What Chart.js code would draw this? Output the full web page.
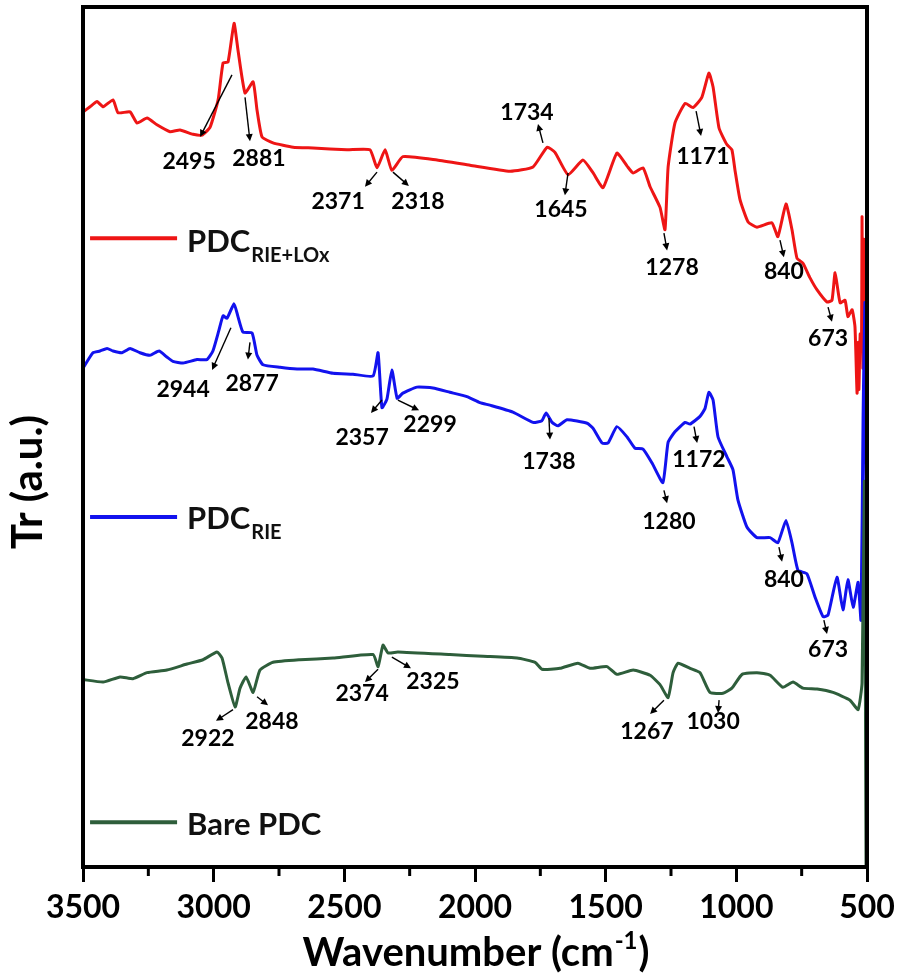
<!DOCTYPE html>
<html><head><meta charset="utf-8">
<script src="https://cdn.jsdelivr.net/npm/chart.js@4.4.1/dist/chart.umd.min.js"></script>
<style>html,body{margin:0;padding:0;background:#fff;}canvas{display:block;}</style>
</head><body>
<canvas id="c" width="901" height="978"></canvas>
<script>
// ---- axis ticks ----
const majorTicks = [3500, 3000, 2500, 2000, 1500, 1000, 500];
const minorTicks = [3250, 2750, 2250, 1750, 1250, 750];

// ---- series names ----
const seriesMain = ['PDC', 'PDC', 'Bare PDC'];
const seriesSub = ['RIE+LOx', 'RIE', ''];
const seriesColors = ['#ee1515', '#1212ee', '#2e5e3b'];

// ---- PDC RIE+LOx ----
const redWn = [3500,3473,3446,3423,3385,3366,3320,3293,3255,3217,
3167,3129,3079,3045,3014,2983,2964,2945,2922,2907,
2880,2849,2834,2815,2773,2696,2620,2490,2402,2375,
2344,2318,2276,2145,2019,1866,1778,1724,1694,1644,
1587,1548,1510,1457,1418,1395,1357,1330,1292,1273,
1261,1235,1196,1166,1132,1105,1089,1066,1036,1017,
1005,986,955,921,864,841,810,787,768,745,
718,691,653,634,622,603,584,573,557,546,
538,534,531,526,521,519,516,512,507,503,
501];
const redTr = [87.8,88.4,89.0,88.4,89.2,87.7,87.8,86.5,87.1,86.3,
85.5,85.7,85.2,85.1,86.0,89.2,93.5,93.6,98.1,95.0,
90.0,91.3,88.0,84.9,84.2,83.7,83.6,83.4,83.4,81.3,
83.4,81.0,82.6,82.2,81.6,80.9,81.4,83.7,83.1,80.5,
82.2,80.7,79.0,83.0,81.5,80.7,81.3,79.1,76.7,74.1,
81.4,86.5,88.8,88.3,89.5,92.3,90.7,85.9,84.0,83.4,
81.0,77.6,75.0,74.4,74.9,73.3,77.1,74.1,70.8,70.2,
68.5,67.1,65.7,65.9,69.1,65.6,65.9,64.0,64.8,62.8,
55.1,61.0,55.5,62.0,60.0,75.6,58.0,73.0,58.0,68.0,
56.0];

// ---- PDC RIE ----
const blueWn = [3500,3462,3435,3408,3385,3351,3320,3282,3244,3209,
3179,3156,3117,3064,3026,3003,2980,2964,2949,2922,
2907,2888,2853,2834,2811,2746,2681,2620,2543,2467,
2390,2371,2356,2337,2318,2298,2276,2222,2161,2096,
2031,1981,1943,1855,1778,1744,1728,1705,1682,1648,
1571,1548,1514,1491,1457,1418,1388,1357,1323,1281,
1261,1235,1196,1177,1139,1120,1105,1089,1070,1036,
1013,994,959,921,871,841,810,787,764,730,
699,668,649,615,592,573,553,534,523,515,
508,503];
const blueTr = [58.0,59.8,60.0,60.3,60.0,59.8,60.3,59.8,59.5,60.0,
59.3,58.8,58.6,59.0,59.0,60.0,62.4,64.1,63.8,65.5,
64.0,62.2,62.1,59.5,58.4,58.1,57.9,57.9,57.4,57.3,
57.1,59.8,53.4,54.4,57.8,54.5,55.1,55.8,55.7,55.2,
54.7,54.0,53.7,52.9,51.7,51.9,52.8,51.7,51.3,52.0,
51.6,51.0,49.3,49.3,51.2,50.0,48.7,48.6,47.0,44.7,
49.4,50.6,51.7,51.5,52.4,53.3,55.2,54.3,50.0,47.7,
46.2,42.7,39.5,38.3,38.3,37.7,40.3,37.7,34.5,34.1,
31.4,29.1,29.3,33.7,29.9,33.4,30.2,33.1,28.7,52.3,
65.6,30.0];

// ---- Bare PDC ----
const greenWn = [3500,3423,3358,3309,3255,3179,3102,3041,2987,2968,
2945,2918,2899,2876,2849,2823,2773,2670,2543,2390,
2371,2352,2333,2295,2096,1969,1839,1770,1744,1675,
1606,1560,1495,1457,1395,1330,1292,1261,1242,1223,
1177,1139,1101,1051,1017,978,921,871,822,783,
745,691,630,565,534,519,510,503];
const greenTr = [21.8,21.5,22.1,21.9,22.6,22.9,23.6,24.1,25.0,24.3,
21.4,18.6,20.8,22.1,20.3,22.9,23.8,24.1,24.3,24.7,
23.3,25.8,24.9,25.0,24.7,24.5,24.3,23.8,23.0,23.1,
23.7,23.1,23.3,22.4,22.9,22.3,21.2,19.7,22.6,23.7,
23.1,22.6,20.3,20.2,20.8,22.4,22.6,22.3,20.9,21.5,
20.8,20.7,20.3,19.4,18.3,21.4,44.8,-5];

// ---- peak labels: [text, textWn, textTr, arrowFromWn, arrowFromTr, arrowToWn, arrowToTr] ----
const peakLabels = [
 ['2495',3094,82.0,2930,92.1,3052,84.9],
 ['2881',2827,82.4,2880,89.5,2861,84.4],
 ['2371',2524,77.4,2375,80.8,2421,79.1],
 ['2318',2218,77.4,2314,80.8,2253,79.2],
 ['1734',1801,87.7,1740,84.2,1759,86.4],
 ['1645',1671,76.4,1644,80.7,1656,78.1],
 ['1278',1246,69.7,1277,73.7,1265,71.7],
 ['1171',1128,82.6,1154,87.9,1135,85.0],
 ['840',818,69.2,833,72.9,818,70.9],
 ['673',649,61.5,649,65.1,634,63.4],
 ['2944',3117,55.5,2934,62.7,3006,57.8],
 ['2877',2853,56.2,2861,61.0,2869,59.0],
 ['2357',2432,49.9,2356,54.3,2398,52.8],
 ['2299',2172,51.4,2295,54.3,2214,53.1],
 ['1738',1717,47.1,1717,52.2,1713,49.7],
 ['1280',1258,40.2,1277,43.8,1265,42.3],
 ['1172',1143,47.4,1162,51.2,1150,49.3],
 ['840',818,33.4,837,37.2,825,35.5],
 ['673',649,25.3,665,28.7,653,27.1],
 ['2922',3022,14.9,2926,18.3,2991,17.0],
 ['2848',2777,16.9,2834,19.8,2792,18.8],
 ['2374',2432,20.2,2371,23.0,2421,21.5],
 ['2325',2161,21.6,2318,24.4,2245,23.1],
 ['1267',1342,15.8,1277,19.4,1330,17.8],
 ['1030',1089,16.9,1066,19.4,1070,17.9]
];

// ---- in-plot legend anchors (data units): line y, text baseline y ----
const legendLineWn = [3473, 3140];
const legendTextWn = 3102;
const legendLineTr = [73.1, 40.7, 5.2];
const legendTextTr = [71.5, 39.3, 3.7];

const FONT = 'Lato, "Open Sans", sans-serif';
const pts = (wn, tr) => wn.map((w, i) => ({x: w, y: tr[i]}));

function arrow(ctx, x1, y1, x2, y2) {
  const a = Math.atan2(y2 - y1, x2 - x1), L = 7, W = 3.5;
  ctx.beginPath(); ctx.moveTo(x1, y1); ctx.lineTo(x2 - L * 0.6 * Math.cos(a), y2 - L * 0.6 * Math.sin(a)); ctx.stroke();
  ctx.beginPath(); ctx.moveTo(x2, y2);
  ctx.lineTo(x2 - L * Math.cos(a) + W * Math.sin(a), y2 - L * Math.sin(a) - W * Math.cos(a));
  ctx.lineTo(x2 - L * Math.cos(a) - W * Math.sin(a), y2 - L * Math.sin(a) + W * Math.cos(a));
  ctx.closePath(); ctx.fill();
}

const decor = {
  id: 'decor',
  afterDatasetsDraw(chart) {
    const ctx = chart.ctx, ca = chart.chartArea, xs = chart.scales.x, ys = chart.scales.y;
    ctx.save();
    // frame
    ctx.strokeStyle = '#000'; ctx.lineWidth = 4;
    ctx.strokeRect(ca.left, ca.top, ca.right - ca.left, ca.bottom - ca.top);
    // minor ticks
    ctx.lineWidth = 3;
    minorTicks.forEach(v => {
      const x = xs.getPixelForValue(v);
      ctx.beginPath(); ctx.moveTo(x, ca.bottom); ctx.lineTo(x, ca.bottom + 9); ctx.stroke();
    });
    // peak labels
    ctx.fillStyle = '#000'; ctx.strokeStyle = '#000'; ctx.lineWidth = 1.4;
    ctx.font = 'bold 23px ' + FONT; ctx.textAlign = 'center'; ctx.textBaseline = 'middle';
    peakLabels.forEach(p => {
      ctx.fillText(p[0], xs.getPixelForValue(p[1]), ys.getPixelForValue(p[2]));
      arrow(ctx, xs.getPixelForValue(p[3]), ys.getPixelForValue(p[4]), xs.getPixelForValue(p[5]), ys.getPixelForValue(p[6]));
    });
    // legend
    ctx.textAlign = 'left'; ctx.textBaseline = 'alphabetic';
    for (let i = 0; i < 3; i++) {
      const ly = ys.getPixelForValue(legendLineTr[i]);
      ctx.strokeStyle = seriesColors[i]; ctx.lineWidth = 4;
      ctx.beginPath(); ctx.moveTo(xs.getPixelForValue(legendLineWn[0]), ly); ctx.lineTo(xs.getPixelForValue(legendLineWn[1]), ly); ctx.stroke();
      const tx = xs.getPixelForValue(legendTextWn), ty = ys.getPixelForValue(legendTextTr[i]);
      ctx.fillStyle = '#111'; ctx.font = 'bold 31px ' + FONT;
      ctx.fillText(seriesMain[i], tx, ty);
      if (seriesSub[i]) {
        const w = ctx.measureText(seriesMain[i]).width;
        ctx.font = 'bold 20px ' + FONT;
        ctx.fillText(seriesSub[i], tx + w + 1, ty + 10);
      }
    }
    // axis titles
    ctx.fillStyle = '#000';
    ctx.font = 'bold 40px ' + FONT;
    const main = 'Wavenumber (cm', sup = '-1', close = ')';
    const wMain = ctx.measureText(main).width, wClose = ctx.measureText(close).width;
    ctx.font = 'bold 24px ' + FONT;
    const wSup = ctx.measureText(sup).width;
    const total = wMain + wSup + wClose + 2;
    let x0 = ca.left + 393 - total / 2; const by = ca.bottom + 99;
    ctx.font = 'bold 40px ' + FONT; ctx.fillText(main, x0, by);
    ctx.font = 'bold 24px ' + FONT; ctx.fillText(sup, x0 + wMain + 1, by - 17);
    ctx.font = 'bold 40px ' + FONT; ctx.fillText(close, x0 + wMain + wSup + 2, by);
    ctx.save();
    ctx.translate(ca.left - 41, ca.top + 475);
    ctx.rotate(-Math.PI / 2);
    ctx.textAlign = 'center'; ctx.font = 'bold 42px ' + FONT;
    ctx.fillText('Tr (a.u.)', 0, 0);
    ctx.restore();
    ctx.restore();
  }
};

new Chart(document.getElementById('c'), {
  type: 'line',
  data: {
    datasets: [
      {label: 'PDC RIE+LOx', data: pts(redWn, redTr), borderColor: seriesColors[0], order: 3},
      {label: 'PDC RIE', data: pts(blueWn, blueTr), borderColor: seriesColors[1], order: 2},
      {label: 'Bare PDC', data: pts(greenWn, greenTr), borderColor: seriesColors[2], order: 1}
    ]
  },
  options: {
    responsive: false, animation: false, parsing: true,
    layout: {padding: {left: 83, top: 7, right: 34, bottom: 0}},
    elements: {line: {borderWidth: 3, tension: 0.15, borderJoinStyle: 'round', borderCapStyle: 'round'}, point: {radius: 0}},
    plugins: {legend: {display: false}, tooltip: {enabled: false}},
    scales: {
      x: {
        type: 'linear', reverse: true, min: 500, max: 3500,
        afterBuildTicks: s => { s.ticks = majorTicks.map(v => ({value: v})); },
        afterFit: s => { s.height = 111; },
        ticks: {autoSkip: false, maxRotation: 0, minRotation: 0, padding: 6, color: '#000',
                callback: v => String(v),
                font: {family: FONT, size: 32, weight: 'bold'}},
        grid: {display: true, drawOnChartArea: false, drawTicks: true, tickLength: 15, tickWidth: 3, tickColor: '#000'},
        border: {display: false}
      },
      y: {display: false, min: 0, max: 100}
    }
  },
  plugins: [decor]
});
</script>
</body></html>
